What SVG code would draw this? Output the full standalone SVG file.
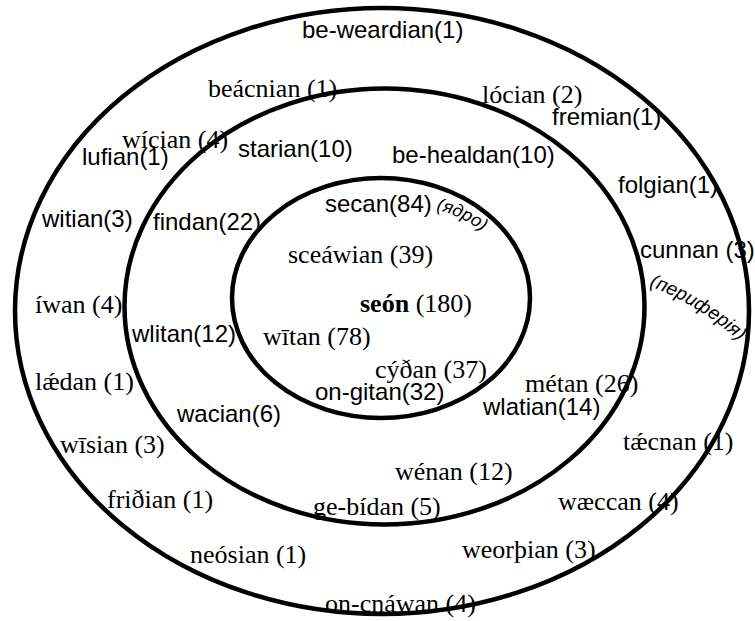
<svg xmlns="http://www.w3.org/2000/svg" width="755" height="621" viewBox="0 0 755 621">
  <style>
    .ring { fill: none; stroke: #000; stroke-width: 4.5; }
    .sans { font-family: "Liberation Sans", Arial, sans-serif; font-size: 24px; fill: #000; }
    .serif { font-family: "Liberation Serif", "Times New Roman", serif; font-size: 26px; fill: #000; }
    .note { font-family: "Liberation Sans", Arial, sans-serif; font-style: italic; fill: #000; }
    .bold { font-weight: bold; }
  </style>
  <defs>
    <path id="arc-core" d="M 436 210 Q 467 217 490 238"/>
    <path id="arc-periphery" d="M 649 286 Q 707 308 748 350"/>
  </defs>

  <rect width="755" height="621" fill="#fff"/>

  <!-- concentric zones -->
  <g id="connectors">
    <ellipse id="zone-outer" class="ring" cx="382" cy="311" rx="367" ry="303"/>
    <ellipse id="zone-middle" class="ring" cx="384.5" cy="306.5" rx="260" ry="218"/>
    <ellipse id="zone-inner" class="ring" cx="381" cy="298" rx="149" ry="120"/>
  </g>

  <!-- core -->
  <g id="core">
    <text class="sans" x="325" y="212">secan(84)</text>
    <text class="note" font-size="18"><textPath href="#arc-core">(ядро)</textPath></text>
    <text class="serif" x="288" y="263">sceáwian (39)</text>
    <text class="serif" x="360" y="312"><tspan class="bold">seón</tspan> (180)</text>
    <text class="serif" x="263" y="345">wītan (78)</text>
    <text class="serif" x="375" y="378">cýðan (37)</text>
    <text class="sans" x="315" y="400">on-gitan(32)</text>
  </g>

  <!-- middle zone -->
  <g id="middle">
    <text class="serif" x="208" y="97">beácnian (1)</text>
    <text class="serif" x="482" y="103">lócian (2)</text>
    <text class="sans" x="238" y="157">starian(10)</text>
    <text class="sans" x="392" y="163">be-healdan(10)</text>
    <text class="sans" x="153" y="230">findan(22)</text>
    <text class="sans" x="132" y="342">wlitan(12)</text>
    <text class="sans" x="177" y="422">wacian(6)</text>
    <text class="serif" x="525" y="392">métan (26)</text>
    <text class="sans" x="483" y="415">wlatian(14)</text>
    <text class="serif" x="395" y="480">wénan (12)</text>
    <text class="serif" x="313" y="515">ge-bídan (5)</text>
  </g>

  <!-- periphery -->
  <g id="periphery">
    <text class="sans" x="302" y="38">be-weardian(1)</text>
    <text class="sans" x="552" y="125">fremian(1)</text>
    <text class="serif" x="122" y="148">wícian (4)</text>
    <text class="sans" x="82" y="165">lufian(1)</text>
    <text class="sans" x="618" y="193">folgian(1)</text>
    <text class="sans" x="42" y="227">witian(3)</text>
    <text class="sans" x="640" y="258">cunnan (3)</text>
    <text class="note" font-size="19"><textPath href="#arc-periphery">(периферія)</textPath></text>
    <text class="serif" x="35" y="313">íwan (4)</text>
    <text class="serif" x="35" y="390">lǽdan (1)</text>
    <text class="serif" x="623" y="450">tǽcnan (1)</text>
    <text class="serif" x="60" y="453">wīsian (3)</text>
    <text class="serif" x="107" y="508">friðian (1)</text>
    <text class="serif" x="558" y="510">wæccan (4)</text>
    <text class="serif" x="462" y="558">weorþian (3)</text>
    <text class="serif" x="190" y="563">neósian (1)</text>
    <text class="serif" x="325" y="612">on-cnáwan (4)</text>
  </g>
</svg>
